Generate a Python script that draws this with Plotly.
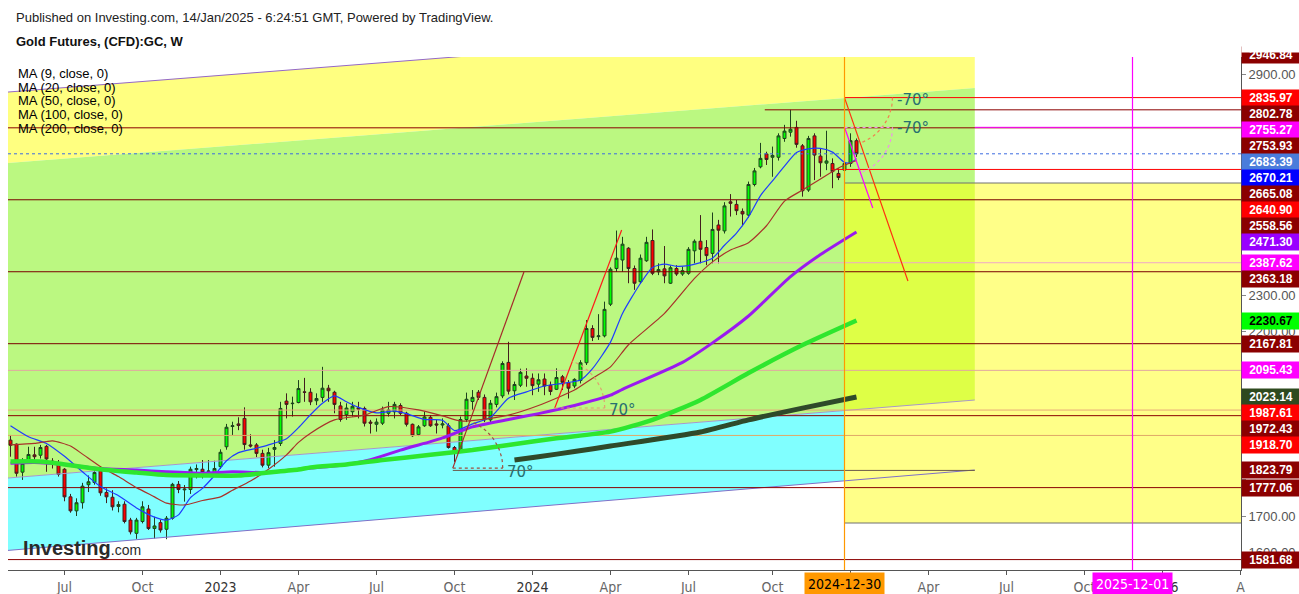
import math
import pandas as pd
import plotly.graph_objects as go

# ---------------- data (weekly candles, Gold Futures CFD:GC) ----------------
FIRST_WEEK = "2022-05-02"
N_WEEKS = 142
week_dates = pd.date_range(FIRST_WEEK, periods=N_WEEKS, freq="7D")

opens = [1906, 1895, 1819, 1852, 1866, 1865, 1889, 1849, 1845, 1827,
         1752, 1714, 1736, 1785, 1791, 1823, 1764, 1751, 1726, 1732,
         1689, 1653, 1685, 1719, 1666, 1682, 1664, 1694, 1786, 1771,
         1772, 1826, 1827, 1821, 1813, 1834, 1888, 1943, 1950, 1965,
         1893, 1893, 1870, 1838, 1881, 1897, 2012, 2005, 2008, 2037,
         2036, 2013, 2022, 2047, 2036, 1999, 1975, 1983, 1994, 1992,
         1955, 1949, 1952, 1979, 1983, 2000, 1979, 1949, 1921, 1945,
         1968, 1950, 1947, 1945, 1886, 1881, 1962, 2011, 2036, 2022,
         1961, 2003, 2026, 2117, 2040, 2055, 2080, 2074, 2058, 2072,
         2055, 2044, 2078, 2062, 2053, 2068, 2116, 2209, 2187, 2189,
         2275, 2372, 2395, 2427, 2372, 2336, 2393, 2448, 2363, 2371,
         2332, 2372, 2357, 2359, 2420, 2446, 2429, 2413, 2490, 2474,
         2553, 2546, 2527, 2517, 2600, 2648, 2683, 2674, 2674, 2725,
         2742, 2755, 2705, 2585, 2732, 2677, 2658, 2657, 2630, 2639,
         2657, 2719]
highs = [1920, 1897, 1857, 1888, 1888, 1893, 1893, 1857, 1852, 1830,
         1760, 1748, 1790, 1810, 1830, 1835, 1775, 1770, 1740, 1740,
         1695, 1695, 1740, 1730, 1698, 1690, 1700, 1790, 1795, 1784,
         1834, 1840, 1852, 1852, 1850, 1881, 1950, 1956, 1968, 1995,
         1922, 1898, 1880, 1885, 1906, 2010, 2033, 2024, 2069, 2075,
         2047, 2033, 2105, 2056, 2040, 2010, 2006, 2010, 2010, 1997,
         1961, 1965, 1997, 2010, 2010, 2006, 1983, 1951, 1947, 1983,
         1974, 1961, 1965, 1952, 1890, 1970, 2035, 2042, 2042, 2030,
         2015, 2035, 2120, 2173, 2065, 2100, 2101, 2087, 2087, 2087,
         2065, 2101, 2083, 2069, 2074, 2123, 2232, 2218, 2248, 2282,
         2375, 2475, 2458, 2430, 2380, 2410, 2458, 2478, 2386, 2433,
         2380, 2381, 2377, 2430, 2451, 2517, 2449, 2524, 2504, 2552,
         2574, 2558, 2535, 2608, 2645, 2713, 2689, 2703, 2739, 2762,
         2802.78, 2773, 2710, 2732, 2739, 2698, 2746, 2671, 2644, 2665,
         2739, 2725]
lows = [1861, 1807, 1798, 1843, 1843, 1856, 1820, 1829, 1807, 1740,
        1709, 1700, 1720, 1765, 1785, 1755, 1735, 1715, 1710, 1680,
        1650, 1638, 1680, 1662, 1639, 1655, 1637, 1690, 1762, 1739,
        1760, 1802, 1802, 1811, 1808, 1828, 1880, 1920, 1933, 1880,
        1886, 1860, 1832, 1830, 1834, 1890, 1965, 1970, 2006, 2010,
        2001, 2001, 2010, 2010, 1979, 1956, 1961, 1970, 1965, 1943,
        1924, 1929, 1947, 1970, 1965, 1974, 1943, 1915, 1917, 1942,
        1942, 1924, 1938, 1883, 1847, 1875, 1955, 1988, 2015, 1955,
        1955, 1995, 2020, 2030, 2015, 2050, 2051, 2028, 2037, 2028,
        2028, 2042, 2042, 2019, 2047, 2060, 2110, 2175, 2178, 2185,
        2270, 2363, 2363, 2332, 2314, 2330, 2390, 2354, 2354, 2332,
        2330, 2352, 2352, 2355, 2386, 2386, 2381, 2386, 2386, 2467,
        2513, 2517, 2487, 2510, 2595, 2644, 2653, 2621, 2665, 2716,
        2730, 2700, 2567, 2580, 2612, 2621, 2639, 2590, 2612, 2625,
        2648, 2675]
closes = [1892, 1816, 1843, 1867, 1861, 1886, 1855, 1846, 1813, 1752,
          1714, 1736, 1781, 1793, 1818, 1763, 1752, 1725, 1731, 1685,
          1657, 1689, 1725, 1666, 1673, 1662, 1694, 1786, 1772, 1773,
          1827, 1829, 1818, 1822, 1829, 1873, 1941, 1945, 1946, 1894,
          1890, 1870, 1838, 1872, 1886, 1992, 2003, 2006, 2046, 2036,
          2010, 2019, 2047, 2040, 2003, 1962, 1993, 1998, 1990, 1952,
          1952, 1955, 1988, 1988, 2003, 1979, 1949, 1918, 1942, 1969,
          1945, 1947, 1950, 1886, 1873, 1962, 2017, 2022, 2022, 1961,
          2006, 2024, 2114, 2039, 2057, 2090, 2074, 2054, 2070, 2053,
          2038, 2076, 2063, 2047, 2071, 2116, 2209, 2185, 2189, 2261,
          2370, 2400, 2438, 2372, 2332, 2400, 2443, 2359, 2369, 2352,
          2374, 2357, 2366, 2424, 2446, 2424, 2407, 2478, 2476, 2542,
          2549, 2529, 2520, 2600, 2637, 2671, 2668, 2679, 2732, 2745,
          2750, 2709, 2583, 2725, 2680, 2659, 2664, 2635, 2619, 2657,
          2719, 2683.39]

# moving averages (week index, value)
ma9_i = [0, 3, 6, 9, 12, 15, 18, 21, 24, 26, 28, 30, 32, 34, 36, 38, 41, 43, 46, 48,
         50, 52, 54, 56, 58, 61, 64, 66, 69, 72, 74, 77, 80, 83, 86, 89, 92, 95, 97, 100,
         102, 105, 107, 109, 111, 113, 115, 117, 119, 121, 123, 125, 127, 129, 131, 133,
         135, 137, 139, 140, 141]
ma9_v = [1945, 1915, 1897, 1862, 1820, 1780, 1755, 1722, 1697, 1689, 1703, 1750, 1775, 1810,
         1850, 1872, 1884, 1893, 1910, 1940, 1975, 2006, 2026, 2010, 1995, 1980, 1985, 1978,
         1962, 1960, 1932, 1950, 1968, 2020, 2037, 2053, 2060, 2069, 2100, 2172, 2250, 2332,
         2375, 2384, 2378, 2380, 2388, 2400, 2435, 2468, 2512, 2570, 2610, 2650, 2687, 2697,
         2698, 2688, 2660, 2659, 2670.21]
ma20_i = [0, 4, 7, 10, 12, 15, 18, 21, 24, 26, 29, 32, 35, 37, 40, 43, 46, 48, 50, 54,
          59, 63, 68, 72, 75, 78, 83, 88, 94, 97, 100, 103, 109, 114, 117, 120, 123, 126,
          129, 132, 135, 138, 141]
ma20_v = [1893, 1897, 1904, 1890, 1868, 1834, 1807, 1777, 1752, 1735, 1730, 1742, 1752, 1770,
          1795, 1827, 1866, 1900, 1925, 1961, 1974, 1997, 1988, 1972, 1958, 1961, 1974, 2000,
          2042, 2074, 2105, 2165, 2250, 2345, 2390, 2422, 2442, 2488, 2555, 2585, 2615, 2645,
          2665.08]
ma50_i = [0, 4, 10, 15, 21, 26, 32, 37, 43, 48, 55, 60, 65, 70, 72, 77, 83, 88, 94, 100,
          102, 112, 117, 123, 130, 135, 141]
ma50_v = [1843, 1845, 1838, 1829, 1825, 1820, 1816, 1820, 1818, 1827, 1838, 1853, 1879, 1902,
          1912, 1942, 1962, 1978, 2000, 2028, 2044, 2117, 2170, 2243, 2350, 2410, 2471.30]
ma100_i = [0, 5, 10, 15, 21, 26, 32, 38, 43, 48, 50, 56, 62, 70, 77, 83, 91, 100, 107, 115,
           123, 132, 141]
ma100_v = [1848, 1848, 1838, 1827, 1818, 1811, 1810, 1810, 1818, 1826, 1832, 1840, 1852, 1866,
           1879, 1893, 1911, 1929, 1961, 2015, 2088, 2164, 2230.67]
ma200_i = [84, 88, 94, 100, 115, 123, 132, 141]
ma200_v = [1852, 1861, 1875, 1890, 1928, 1961, 1993, 2023.14]

# drawing anchors (date, price)
CH_LEFT, CH_RIGHT = "2022-04-29", "2025-05-31"
CH_YELLOW_TOP = [2851.0, 3057.0]
CH_GREEN_TOP = [2658.4, 2862.0]
CH_GREEN_BOT = [1803.1, 2014.9]
CH_CYAN_BOT = [1606.6, 1824.9]
BOX_LEFT = "2024-12-30"
BOX_TOP, BOX_BOTTOM = 2604.1, 1681.0
MARK_DATE_1, MARK_DATE_2 = "2024-12-30", "2025-12-01"

TREND_LINES = [("2023-09-30", 1830.0, "2023-12-22", 2362.4),
               ("2024-01-27", 1993.2, "2024-04-14", 2476.5),
               ("2024-12-30", 2835.97, "2025-03-14", 2338.0),
               ("2024-12-30", 2755.27, "2025-02-01", 2536.2)]
ANGLE_TEXTS = ["70°", "70°", "-70°", "-70°"]
ANGLE_TEXT_POS = [("2023-12-18", 1820.0), ("2024-04-15", 1988.0),
                  ("2025-03-20", 2829.0), ("2025-03-20", 2753.0)]

LEVEL_PRICES = [2835.97, 2802.78, 2753.93, 2755.27, 2640.90, 2558.56, 2387.62, 2363.18,
                2167.81, 2095.43, 1987.61, 1972.43, 1918.70, 1823.79, 1777.06, 1581.68]
LEVEL_FROM = ["2024-12-30", "2024-09-28", None, "2025-05-31", "2024-12-15", None,
              "2024-07-28", None, None, None, None, None, None, "2023-09-30", None, None]
LEVEL_TO = [None] * 13 + ["2025-05-31", None, None]
LAST_PRICE = 2683.39

LABEL_VALUES = [2835.97, 2802.78, 2755.27, 2753.93, 2683.39, 2670.21, 2665.08, 2640.90,
                2558.56, 2471.30, 2387.62, 2363.18, 2230.67, 2167.81, 2095.43, 2023.14,
                1987.61, 1972.43, 1918.70, 1823.79, 1777.06, 1581.68]
TOP_CUT_LABEL = 2946.84

Y_TICKS = [1600, 1700, 1800, 1900, 2000, 2100, 2200, 2300, 2400, 2500, 2600, 2700, 2800, 2900]
Y_TICKS_SHOWN = [1600, 1700, 2200, 2300, 2900]
X_TICK_DATES = ["2022-07-04", "2022-10-03", "2023-01-02", "2023-04-03", "2023-07-03",
                "2023-10-02", "2024-01-01", "2024-04-01", "2024-07-01", "2024-10-07",
                "2025-01-06", "2025-04-07", "2025-07-07", "2025-10-06", "2026-01-05",
                "2026-04-06"]
X_TICK_TEXT = ["Jul", "Oct", "2023", "Apr", "Jul", "Oct", "2024", "Apr", "Jul", "Oct",
               "", "Apr", "Jul", "Oct", "2026", "A"]
LEGEND_TEXT = ["MA (9, close, 0)", "MA (20, close, 0)", "MA (50, close, 0)",
               "MA (100, close, 0)", "MA (200, close, 0)"]

# ---------------- styles / geometry ----------------
RED, DRED, MAG = "#FF0000", "#8B0000", "#FF00FF"
LEVEL_COLORS = [RED, DRED, DRED, MAG, RED, "#7A0000", "#F0A8C8", "#7A0000",
                "#7A0000", "#E0A8A0", "#E8A878", DRED, "#E0A868", "#6B5A4A", DRED, DRED]
LABEL_COLORS = [RED, DRED, MAG, DRED, "#4A7CDB", "#0000FF", DRED, RED,
                DRED, "#9900FF", MAG, DRED, "#00FF00", DRED, MAG, "#2E4A1F",
                RED, DRED, RED, DRED, DRED, DRED]
TREND_COLORS = ["#A52A2A", "#FF1A1A", "#FF3010", MAG]
ARC_COLORS = ["#A05040", "#E0A070", "#F08050", "#F090E8"]

FIG_W, FIG_H = 1299, 594
M_L, M_R, M_T, M_B = 8, 58, 57, 24
PW = FIG_W - M_L - M_R
PH = FIG_H - M_T - M_B
Y_MIN, Y_MAX = 1553.4, 2946.2
DAYS_PER_PX = 7 / 6
X_START = pd.Timestamp(FIRST_WEEK) - pd.Timedelta(days=2.5 * DAYS_PER_PX)
X_END = X_START + pd.Timedelta(days=PW * DAYS_PER_PX)
PX_PER_UNIT = PH / (Y_MAX - Y_MIN)


def to_px(t, p):
    t = pd.Timestamp(t)
    x = M_L + (t - X_START).total_seconds() / 86400 / DAYS_PER_PX
    y = M_T + (Y_MAX - p) * PX_PER_UNIT
    return x, y


def from_px(x, y):
    t = X_START + pd.Timedelta(days=(x - M_L) * DAYS_PER_PX)
    p = Y_MAX - (y - M_T) / PX_PER_UNIT
    return t, p


def line_at(t0, p0, t1, p1, t):
    f = (pd.Timestamp(t) - pd.Timestamp(t0)) / (pd.Timestamp(t1) - pd.Timestamp(t0))
    return p0 + f * (p1 - p0)


def paper_y(ypx):
    return (M_T + PH - ypx) / PH


def paper_x(xpx):
    return (xpx - M_L) / PW


def dfmt(t):
    return pd.Timestamp(t).strftime("%Y-%m-%d_%H:%M:%S")


shapes = []


def poly(xs, ys, color):
    pts = " L ".join("%s,%.3f" % (dfmt(x), y) for x, y in zip(xs, ys))
    shapes.append(dict(type="path", xref="x", yref="y", path="M " + pts + " Z",
                       fillcolor=color, line=dict(width=0), layer="below"))


fig = go.Figure()


def seg(xs, ys, color, width=1.0, dash="solid"):
    fig.add_trace(go.Scatter(x=xs, y=ys, mode="lines",
                             line=dict(color=color, width=width, dash=dash),
                             hoverinfo="skip", showlegend=False))


# background channels and box (shapes below the traces)
cyan_top_box = line_at(CH_LEFT, CH_GREEN_BOT[0], CH_RIGHT, CH_GREEN_BOT[1], BOX_LEFT)
cyan_bot_box = line_at(CH_LEFT, CH_CYAN_BOT[0], CH_RIGHT, CH_CYAN_BOT[1], BOX_LEFT)
poly([CH_LEFT, CH_RIGHT, CH_RIGHT, CH_LEFT],
     [CH_YELLOW_TOP[0], CH_YELLOW_TOP[1], CH_GREEN_TOP[1], CH_GREEN_TOP[0]], "#FFFF80")
poly([CH_LEFT, CH_RIGHT, CH_RIGHT, CH_LEFT],
     [CH_GREEN_TOP[0], CH_GREEN_TOP[1], CH_GREEN_BOT[1], CH_GREEN_BOT[0]], "#BBF881")
poly([CH_LEFT, BOX_LEFT, BOX_LEFT, CH_LEFT],
     [CH_GREEN_BOT[0], cyan_top_box, cyan_bot_box, CH_CYAN_BOT[0]], "#80FFFF")
poly([BOX_LEFT, X_END, X_END, BOX_LEFT], [BOX_TOP, BOX_TOP, BOX_BOTTOM, BOX_BOTTOM], "#FFFF88")
poly([BOX_LEFT, CH_RIGHT, CH_RIGHT, BOX_LEFT],
     [BOX_TOP, BOX_TOP, CH_GREEN_BOT[1], cyan_top_box], "#DEFF46")

# candles
fig.add_trace(go.Candlestick(
    x=week_dates, open=opens, high=highs, low=lows, close=closes,
    increasing=dict(line=dict(color="#1E421E", width=1), fillcolor="#00FF00"),
    decreasing=dict(line=dict(color="#421E1E", width=1), fillcolor="#FF0000"),
    whiskerwidth=0, hoverinfo="skip", showlegend=False))

# channel borders
seg([CH_LEFT, CH_RIGHT], CH_YELLOW_TOP, "#9468C8", 1)
seg([CH_LEFT, CH_RIGHT], CH_GREEN_BOT, "#A898C8", 1)
seg([CH_LEFT, CH_RIGHT], CH_CYAN_BOT, "#7E70C8", 1)
# box border
seg([BOX_LEFT, X_END], [BOX_TOP, BOX_TOP], "#707070", 1)
seg([BOX_LEFT, X_END], [BOX_BOTTOM, BOX_BOTTOM], "#707070", 1)

# horizontal levels
for p, f, t, c in zip(LEVEL_PRICES, LEVEL_FROM, LEVEL_TO, LEVEL_COLORS):
    seg([f or X_START, t or X_END], [p, p], c, 1)

# moving averages
for idx, vals, col, w in [(ma9_i, ma9_v, "#1E3CFF", 1.2), (ma20_i, ma20_v, "#A8322A", 1.2),
                          (ma50_i, ma50_v, "#9A1AF0", 3.0), (ma100_i, ma100_v, "#2EE62E", 4.5),
                          (ma200_i, ma200_v, "#2F4A2A", 5.0)]:
    fig.add_trace(go.Scatter(x=[week_dates[i] for i in idx], y=vals, mode="lines",
                             line=dict(color=col, width=w, shape="spline", smoothing=0.6),
                             hoverinfo="skip", showlegend=False))

# trend lines, angle arcs and arc bases
for k, ((t0, p0, t1, p1), col) in enumerate(zip(TREND_LINES, TREND_COLORS)):
    seg([t0, t1], [p0, p1], col, 1.2)
    cx, cy = to_px(t0, p0)
    ex, ey = to_px(t1, p1)
    ang = math.atan2(ey - cy, ex - cx)
    r = 50 if k < 2 else 48
    arc_t, arc_p = [], []
    for j in range(17):
        a = ang * j / 16
        tt, pp = from_px(cx + r * math.cos(a), cy + r * math.sin(a))
        arc_t.append(tt)
        arc_p.append(pp)
    seg(arc_t, arc_p, ARC_COLORS[k], 1.2, "dot")
    if k != 2:
        bt, _ = from_px(cx + r, cy)
        seg([t0, bt], [p0, p0], ARC_COLORS[k], 1.2, "dot")

# last price line
seg([X_START, X_END], [LAST_PRICE, LAST_PRICE], "#3D6BE0", 1, "dot")

# vertical markers
shapes += [
    dict(type="line", xref="x", yref="paper", x0=MARK_DATE_1, x1=MARK_DATE_1, y0=0, y1=1,
         line=dict(color="#FF9800", width=1.2), layer="above"),
    dict(type="line", xref="x", yref="paper", x0=MARK_DATE_2, x1=MARK_DATE_2, y0=0, y1=1,
         line=dict(color="#FF00FF", width=1.2), layer="above"),
]

ann = []
FONT = "Liberation Sans, Arial, sans-serif"
NARROW = "Liberation Sans Narrow, DejaVu Sans Condensed, Arial Narrow, sans-serif"
ann.append(dict(xref="paper", yref="paper", x=paper_x(14), y=paper_y(17), xanchor="left",
                yanchor="middle", showarrow=False,
                text="Published on Investing.com, 14/Jan/2025 - 6:24:51 GMT, Powered by TradingView.",
                font=dict(family=FONT, size=13, color="#222")))
ann.append(dict(xref="paper", yref="paper", x=paper_x(14), y=paper_y(41), xanchor="left",
                yanchor="middle", showarrow=False, text="<b>Gold Futures, (CFD):GC, W</b>",
                font=dict(family=FONT, size=13, color="#111")))
for txt, ypx in zip(LEGEND_TEXT, [73, 87, 100.5, 114.5, 128.5]):
    ann.append(dict(xref="paper", yref="paper", x=paper_x(16), y=paper_y(ypx), xanchor="left",
                    yanchor="middle", showarrow=False, text=txt,
                    font=dict(family=FONT, size=13, color="#000")))

# angle texts
for txt, (tx, ty) in zip(ANGLE_TEXTS, ANGLE_TEXT_POS):
    ann.append(dict(xref="x", yref="y", x=tx, y=ty, showarrow=False, text=txt,
                    xanchor="center", yanchor="middle",
                    font=dict(family="DejaVu Sans, sans-serif", size=15, color="#277070")))

# right axis price labels (stacked so they don't overlap)
prev = -1e9
for v, c in sorted(zip(LABEL_VALUES, LABEL_COLORS), key=lambda z: -z[0]):
    own = M_T + (Y_MAX - v) * PX_PER_UNIT
    ypx = max(own, prev + 16)
    prev = ypx
    ann.append(dict(xref="paper", yref="paper", x=1.0, y=paper_y(ypx), xanchor="left",
                    yanchor="middle", showarrow=False, text="<b>%.2f</b>" % v,
                    bgcolor=c, width=56, height=14, borderpad=1, align="center",
                    font=dict(family=FONT, size=12,
                              color="#000" if c == "#00FF00" else "#FFF")))
# top, partly hidden label (upper part covered by the white page area)
ann.append(dict(xref="paper", yref="paper", x=1.0, y=paper_y(55), xanchor="left",
                yanchor="middle", showarrow=False, text="<b>%.2f</b>" % TOP_CUT_LABEL,
                bgcolor=DRED, width=56, height=14, borderpad=1, align="center",
                font=dict(family=FONT, size=12, color="#FFF")))
ann.append(dict(xref="paper", yref="paper", x=1.0, y=paper_y(44), xanchor="left",
                yanchor="middle", showarrow=False, text=" ", bgcolor="#FFFFFF",
                width=60, height=16, borderpad=0))

# bottom date markers
ann.append(dict(xref="x", yref="paper", x=MARK_DATE_1, y=paper_y(583.5), xanchor="center",
                yanchor="middle", showarrow=False, text=MARK_DATE_1, bgcolor="#FF9800",
                borderpad=3, font=dict(family=NARROW, size=14, color="#000")))
ann.append(dict(xref="x", yref="paper", x=MARK_DATE_2, y=paper_y(583.5), xanchor="center",
                yanchor="middle", showarrow=False, text=MARK_DATE_2, bgcolor="#FF00FF",
                borderpad=3, font=dict(family=NARROW, size=14, color="#FFF")))

# watermark
ann.append(dict(xref="paper", yref="paper", x=paper_x(21), y=paper_y(548), xanchor="left",
                yanchor="middle", showarrow=False,
                text="<b>Investing</b><span style='font-size:14px'>.com</span>",
                font=dict(family=FONT, size=20, color="#2A2A2A")))

tick_text = ['<span style="color:#333">%s</span>' % t if t.isdigit() else t for t in X_TICK_TEXT]
y_tick_text = ["%.2f" % v if v in Y_TICKS_SHOWN else "" for v in Y_TICKS]

fig.update_layout(
    width=FIG_W, height=FIG_H, autosize=False,
    margin=dict(l=M_L, r=M_R, t=M_T, b=M_B, pad=0, autoexpand=False),
    paper_bgcolor="#FFFFFF", plot_bgcolor="#FFFFFF",
    showlegend=False, shapes=shapes, annotations=ann,
    xaxis=dict(type="date", range=[X_START, X_END], showgrid=False, zeroline=False,
               showline=True, linecolor="#555", linewidth=1, ticks="outside", ticklen=4,
               tickcolor="#555", tickvals=X_TICK_DATES, ticktext=tick_text,
               tickfont=dict(family=NARROW, size=14, color="#666"),
               rangeslider=dict(visible=False), fixedrange=True, automargin=False),
    yaxis=dict(side="right", range=[Y_MIN, Y_MAX], showgrid=False, zeroline=False,
               showline=True, linecolor="#555", linewidth=1, ticks="outside", ticklen=4,
               tickcolor="#888", tickvals=Y_TICKS, ticktext=y_tick_text,
               tickfont=dict(family=FONT, size=13, color="#555"), fixedrange=True,
               automargin=False),
)

fig.write_html("out.html", config={"displayModeBar": False},
               post_script="document.body.style.margin='0px';")
